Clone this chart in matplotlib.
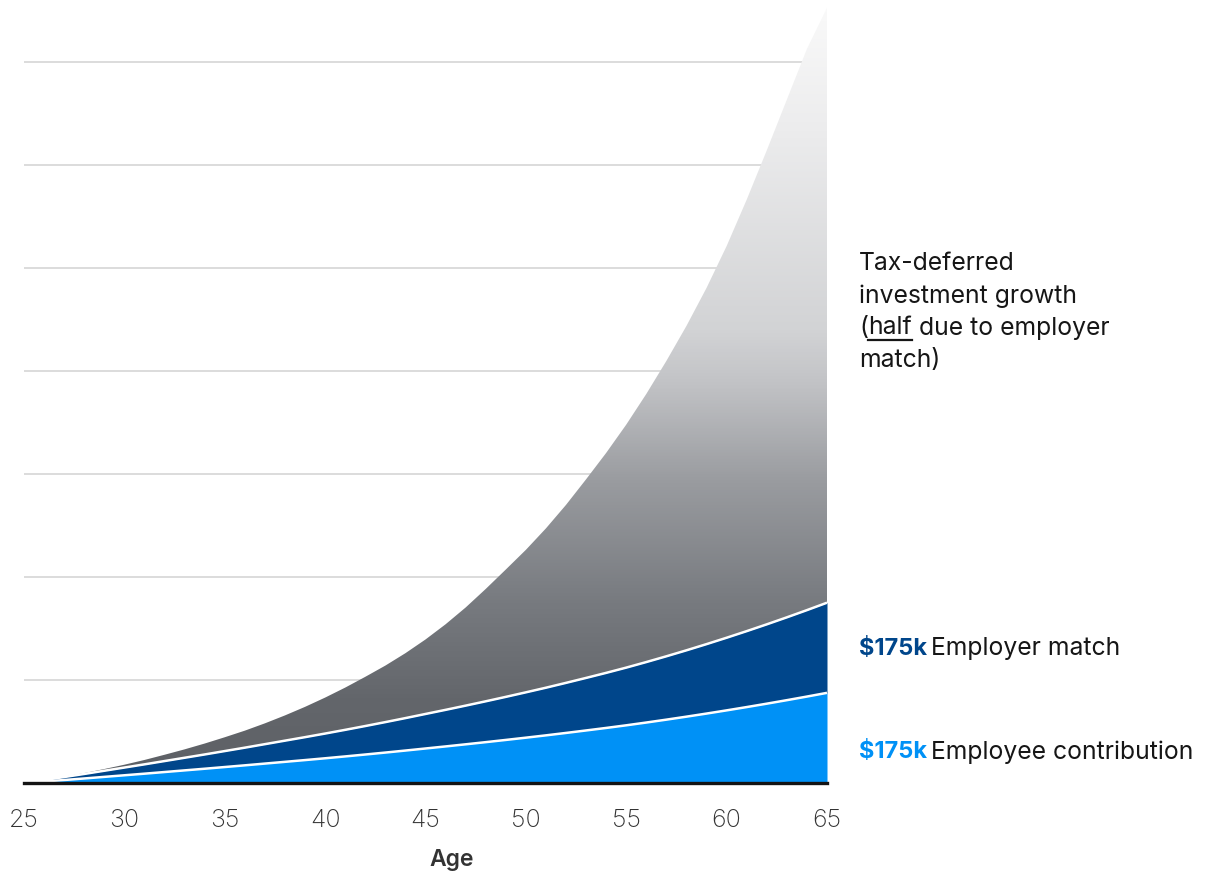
import numpy as np
import matplotlib.pyplot as plt
from matplotlib.colors import LinearSegmentedColormap
from matplotlib.lines import Line2D

plt.rcParams['font.family'] = ['Inter', 'DejaVu Sans']

# balances in $k by age
ages = list(range(25, 66))
employee = [0.0, 2.9, 5.8, 8.8, 11.9, 15.0, 18.1, 21.3, 24.5, 27.7, 31.0,
            34.3, 37.7, 41.1, 44.5, 48.0, 51.6, 55.3, 59.1, 63.0, 67.0,
            71.0, 75.1, 79.3, 83.6, 88.0, 92.5, 97.2, 102.0, 106.9, 112.0,
            117.4, 123.0, 128.8, 134.8, 141.0, 147.4, 154.0, 160.8, 167.8, 175.0]
employer = [0.0, 2.9, 5.8, 8.8, 11.9, 15.0, 18.1, 21.3, 24.5, 27.7, 31.0,
            34.3, 37.7, 41.1, 44.5, 48.0, 51.6, 55.3, 59.1, 63.0, 67.0,
            71.0, 75.1, 79.3, 83.6, 88.0, 92.5, 97.2, 102.0, 106.9, 112.0,
            117.4, 123.0, 128.8, 134.8, 141.0, 147.4, 154.0, 160.8, 167.8, 175.0]
growth = [0.0, 0.2, 0.7, 1.7, 3.3, 5.5, 8.5, 12.2, 16.3, 21.2, 26.8,
          33.0, 40.4, 49.0, 58.8, 69.8, 82.0, 95.5, 109.7, 126.0, 144.6,
          166.1, 190.5, 218.1, 247.2, 276.6, 309.3, 345.5, 385.6, 427.0, 471.7,
          520.5, 573.4, 629.8, 691.5, 760.3, 837.6, 920.1, 1005.0, 1089.4, 1155.0]

xticks = [25, 30, 35, 40, 45, 50, 55, 60, 65]
grid_levels = [200, 400, 600, 800, 1000, 1200, 1400]

light_blue = '#0091f6'
dark_blue = '#00468b'
text_col = '#161616'

emp = np.array(employee)
top1 = emp + np.array(employer)
top2 = top1 + np.array(growth)

fig = plt.figure(figsize=(12.09, 8.73), dpi=100)
ax = fig.add_axes([24 / 1209, 1 - 783 / 873, 803 / 1209, 783 / 873])

for lvl in grid_levels:
    ax.axhline(lvl, color='#d2d2d2', lw=1.1, zorder=0.5)

ax.fill_between(ages, 0, emp, color=light_blue, lw=0, zorder=2)
ax.fill_between(ages, emp, top1, color=dark_blue, lw=0, zorder=2)

# gray growth band with a vertical gradient
band = ax.fill_between(ages, top1, top2, facecolor='none', lw=0, zorder=2)
ymax = 1520
stops = [(0, '#5d6065'), (161, '#63666b'), (355, '#787b80'), (588, '#9a9ca0'),
         (783, '#c3c4c7'), (880, '#d2d3d5'), (1268, '#ececed'), (ymax, '#fafafa')]
cmap = LinearSegmentedColormap.from_list('gray_fade', [(v / ymax, c) for v, c in stops])
grad = np.linspace(0, 1, 512).reshape(-1, 1)
im = ax.imshow(grad, extent=[25, 65, 0, ymax], origin='lower', aspect='auto',
               cmap=cmap, vmin=0, vmax=1, zorder=2, interpolation='bilinear')
im.set_clip_path(band.get_paths()[0], transform=ax.transData)

ax.plot(ages, emp, color='white', lw=1.8, zorder=3, solid_capstyle='butt')
ax.plot(ages, top1, color='white', lw=1.8, zorder=3, solid_capstyle='butt')
ax.axhline(0, color='#141414', lw=2.4, zorder=4, clip_on=False)

ax.set_xlim(25, 65)
ax.set_ylim(0, ymax)
for s in ax.spines.values():
    s.set_visible(False)
ax.set_yticks([])
ax.set_xticks(xticks)
ax.tick_params(axis='x', length=0, pad=19, labelsize=18, labelcolor='#333333')
for lab in ax.get_xticklabels():
    lab.set_fontweight('light')
ax.text(0.532, -0.098, 'Age', transform=ax.transAxes, ha='center', va='center',
        fontsize=16.5, fontweight='semibold', color='#333333')

# right-hand labels
def px(x, y):
    return x / 1209, 1 - y / 873

fs = 17.8
fs_bold = 17
for y, line in [(263, 'Tax-deferred'), (296, 'investment growth'), (360, 'match)')]:
    fig.text(*px(859, y), line, fontsize=fs, color=text_col, va='center')

t0 = fig.text(*px(859, 328), '(', fontsize=fs, color=text_col, va='center')
t1 = fig.text(0, 0, 'half', fontsize=fs, color=text_col, va='center')
t2 = fig.text(0, 0, ' due to employer', fontsize=fs, color=text_col, va='center')

for y, amount, col, label in [(649, '$175k', dark_blue, 'Employer match'),
                              (752, '$175k', light_blue, 'Employee contribution')]:
    a = fig.text(*px(859, y), amount, fontsize=fs_bold, color=col, fontweight='bold', va='center')
    ax.annotate(label, xy=(1, 0.5), xycoords=a, xytext=(3, 0), textcoords='offset points',
                fontsize=fs, color=text_col, va='center', annotation_clip=False)

fig.canvas.draw()
r = fig.canvas.get_renderer()
b0 = t0.get_window_extent(r)
t1.set_position((b0.x1 / fig.bbox.width, 1 - 328 / 873))
fig.canvas.draw()
b1 = t1.get_window_extent(r)
t2.set_position((b1.x1 / fig.bbox.width, 1 - 328 / 873))
uy = 1 - 339.5 / 873
fig.add_artist(Line2D([b1.x0 / fig.bbox.width, b1.x1 / fig.bbox.width], [uy, uy],
                      transform=fig.transFigure, color=text_col, lw=1.6))

fig.savefig('out.png', dpi=100)
